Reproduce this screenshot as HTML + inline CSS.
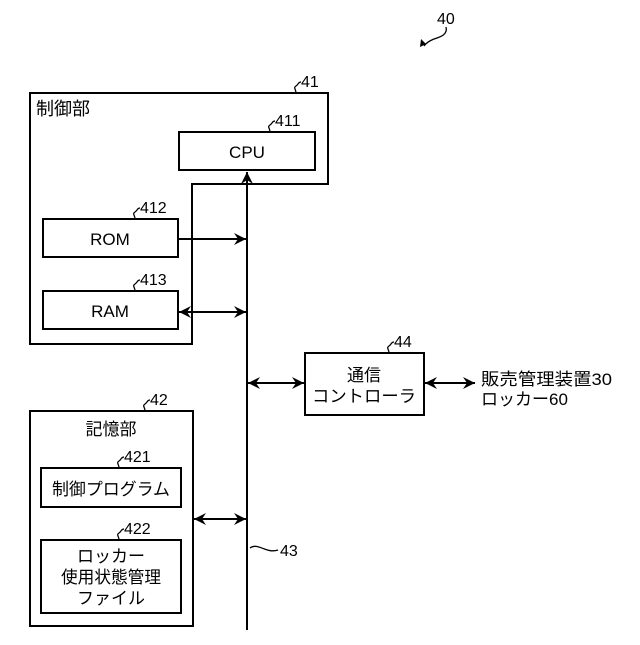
<!DOCTYPE html>
<html><head><meta charset="utf-8"><style>html,body{margin:0;padding:0;background:#fff}</style></head>
<body>
<svg width="640" height="640" viewBox="0 0 640 640" xmlns="http://www.w3.org/2000/svg" font-family="Liberation Sans, Noto Sans CJK JP, sans-serif" fill="#000">
<defs>
<marker id="a" viewBox="0 0 12 12" refX="12" refY="6" markerWidth="12" markerHeight="12" markerUnits="userSpaceOnUse" orient="auto-start-reverse"><path d="M0,0 L12,6 L0,12 L4,6 Z" fill="#000"/></marker>
</defs>
<g fill="none" stroke="#000" stroke-width="2">
<path d="M30,93 H328 V184 H192 V344 H30 Z"/>
<rect x="179" y="132" width="136" height="38"/>
<rect x="43" y="219" width="135" height="38"/>
<rect x="43" y="291" width="135" height="38"/>
<rect x="305" y="353" width="119" height="62"/>
<rect x="30" y="411" width="163" height="215"/>
<rect x="41" y="468" width="140" height="39"/>
<rect x="41" y="540" width="140" height="73"/>
<line x1="247" y1="630" x2="247" y2="172" marker-end="url(#a)"/>
<line x1="178" y1="239" x2="246" y2="239" marker-end="url(#a)"/>
<line x1="179" y1="312" x2="246" y2="312" marker-start="url(#a)" marker-end="url(#a)"/>
<line x1="248" y1="383" x2="304" y2="383" marker-start="url(#a)" marker-end="url(#a)"/>
<line x1="425" y1="383" x2="475" y2="383" marker-start="url(#a)" marker-end="url(#a)"/>
<line x1="194" y1="519" x2="246" y2="519" marker-start="url(#a)" marker-end="url(#a)"/>
<g stroke-width="1.3">
<path d="M296,93 c0,-4 -3,-5 0,-7 c3,-2 2,-4 5,-4"/>
<path d="M270,132 c0,-4 -3,-5 0,-7 c3,-2 2,-4 5,-4"/>
<path d="M135,219 c0,-4 -3,-5 0,-7 c3,-2 2,-4 5,-4"/>
<path d="M135,291 c0,-4 -3,-5 0,-7 c3,-2 2,-4 5,-4"/>
<path d="M389,353 c0,-4 -3,-5 0,-7 c3,-2 2,-4 5,-4"/>
<path d="M145,411 c0,-4 -3,-5 0,-7 c3,-2 2,-4 5,-4"/>
<path d="M119,468 c0,-4 -3,-5 0,-7 c3,-2 2,-4 5,-4"/>
<path d="M119,540 c0,-4 -3,-5 0,-7 c3,-2 2,-4 5,-4"/>
<path d="M250,548 c8,-6 16,6 28,2"/>
<path d="M446,27 c2,8 -6,10 -12,12 c-5,2 -8,4 -10,7"/>
</g>
</g>
<path d="M420,47 l1,-8 l5,5 z" fill="#000"/>
<g font-size="16">
<text x="301" y="87">41</text>
<text x="275" y="126">411</text>
<text x="140" y="213">412</text>
<text x="140" y="285">413</text>
<text x="394" y="347">44</text>
<text x="150" y="405">42</text>
<text x="124" y="462">421</text>
<text x="124" y="534">422</text>
<text x="280" y="556">43</text>
<text x="437" y="24">40</text>
</g>
<g font-size="17">
<text x="36" y="115" font-size="18">制御部</text>
<text x="247" y="158" text-anchor="middle">CPU</text>
<text x="110" y="245" text-anchor="middle">ROM</text>
<text x="110" y="317" text-anchor="middle">RAM</text>
<text x="364" y="381" text-anchor="middle">通信</text>
<text x="364" y="402" text-anchor="middle" textLength="104" lengthAdjust="spacingAndGlyphs">コントローラ</text>
<text x="481" y="385" textLength="131" lengthAdjust="spacingAndGlyphs">販売管理装置30</text>
<text x="481" y="405">ロッカー60</text>
<text x="111" y="435" text-anchor="middle">記憶部</text>
<text x="111" y="495" text-anchor="middle" textLength="118" lengthAdjust="spacingAndGlyphs">制御プログラム</text>
<text x="111" y="562" text-anchor="middle">ロッカー</text>
<text x="111" y="583" text-anchor="middle" textLength="100" lengthAdjust="spacingAndGlyphs">使用状態管理</text>
<text x="111" y="604" text-anchor="middle">ファイル</text>
</g>
</svg>
</body></html>
